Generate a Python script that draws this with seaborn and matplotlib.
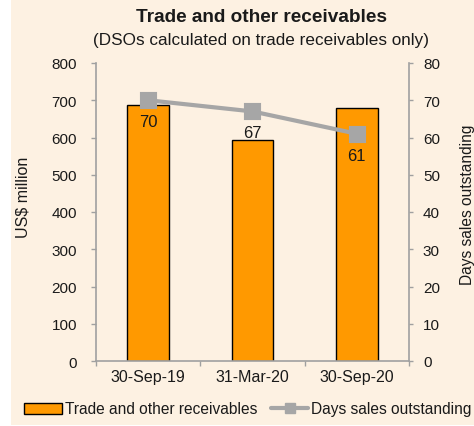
import matplotlib
matplotlib.use("Agg")
import matplotlib.pyplot as plt
from matplotlib.patches import Rectangle
from matplotlib.lines import Line2D
import seaborn as sns
import pandas as pd

categories = ["30-Sep-19", "31-Mar-20", "30-Sep-20"]
receivables = [688, 594, 679]
dso = [70, 67, 61]
left_ticks = [0, 100, 200, 300, 400, 500, 600, 700, 800]
right_ticks = [0, 10, 20, 30, 40, 50, 60, 70, 80]

sns.set_theme(style="white")
plt.rcParams['font.family'] = ['Liberation Sans', 'DejaVu Sans']

BG = "#FDF1E2"
ORANGE = "#FF9900"
GRAY = "#A6A6A6"
SPINE = "#A0A0A0"
TXT = "#1A1A1A"

df = pd.DataFrame({"cat": categories, "rec": receivables, "dso": dso})

fig = plt.figure(figsize=(4.74, 4.27), dpi=100)
fig.patch.set_facecolor("white")
fig.patches.append(Rectangle((11/474, 1/427), 1 - 11/474, 1 - 1/427,
                             transform=fig.transFigure, facecolor=BG,
                             edgecolor="none", zorder=-10))

ax = fig.add_axes([96/474, 1 - 362/427, (409 - 96)/474, (362 - 64)/427])
ax.set_facecolor("none")
sns.barplot(data=df, x="cat", y="rec", ax=ax, color=ORANGE, width=0.4,
            edgecolor="black", linewidth=1.0, saturation=1)
ax.set_xlim(-0.5, 2.5)
ax.set_ylim(0, 800)
ax.set_yticks(left_ticks)
ax.set_xlabel("")
ax.set_ylabel("US$ million", fontsize=11.5, color=TXT)
ax.yaxis.set_label_coords(-0.208, 0.554)
for s in ["top", "right"]:
    ax.spines[s].set_visible(False)
for s in ["left", "bottom"]:
    ax.spines[s].set_color(SPINE)
    ax.spines[s].set_linewidth(1.2)
ax.tick_params(axis="y", which="both", left=True, length=3.6, width=1, color=SPINE,
               labelsize=11, labelcolor=TXT, pad=10)
ax.set_xticks([-0.5, 0.5, 1.5, 2.5], minor=False)
ax.set_xticklabels([])
ax.set_xticks([0, 1, 2], minor=True)
ax.set_xticklabels(categories, minor=True)
ax.tick_params(axis="x", which="major", bottom=True, length=3.5, width=1, color=SPINE)
ax.tick_params(axis="x", which="minor", bottom=False, length=0, labelsize=11.5,
               labelcolor=TXT, pad=6)

ax2 = ax.twinx()
ax2.set_facecolor("none")
sns.pointplot(data=df, x="cat", y="dso", ax=ax2, color=GRAY, markers="s",
              markersize=9.5, linewidth=3)
ax2.set_xlim(-0.5, 2.5)
ax2.set_ylim(0, 80)
ax2.set_yticks(right_ticks)
ax2.set_ylabel("Days sales outstanding", fontsize=11.2, color=TXT)
ax2.yaxis.set_label_coords(1.164, 0.527)
for s in ["top", "left", "bottom"]:
    ax2.spines[s].set_visible(False)
ax2.spines["right"].set_color(SPINE)
ax2.spines["right"].set_linewidth(1.2)
ax2.tick_params(axis="y", right=True, length=3, width=1, color=SPINE,
                labelsize=11, labelcolor=TXT, pad=7)
for i, v in enumerate(dso):
    ax2.annotate(f"{v}", (i, v), xytext=(0, -15.5), textcoords="offset points",
                 ha="center", va="center", fontsize=12, color=TXT)

fig.text(262/474, 1 - 17/427, "Trade and other receivables", ha="center",
         va="center", fontsize=13.7, fontweight="bold", color=TXT)
fig.text(261/474, 1 - 40/427, "(DSOs calculated on trade receivables only)",
         ha="center", va="center", fontsize=12.3, color=TXT)

handles = [Rectangle((0, 0), 1, 1, facecolor=ORANGE, edgecolor="black", linewidth=1),
           Line2D([0], [0], color=GRAY, linewidth=3, marker="s", markersize=7)]
fig.legend(handles, ["Trade and other receivables", "Days sales outstanding"],
           loc="center", bbox_to_anchor=(248/474, 1 - 410/427), ncol=2,
           frameon=False, fontsize=11.2, handlelength=2.4, handletextpad=0.2,
           columnspacing=0.9, labelcolor=TXT)

fig.savefig("out.png", dpi=100, facecolor=fig.get_facecolor())
